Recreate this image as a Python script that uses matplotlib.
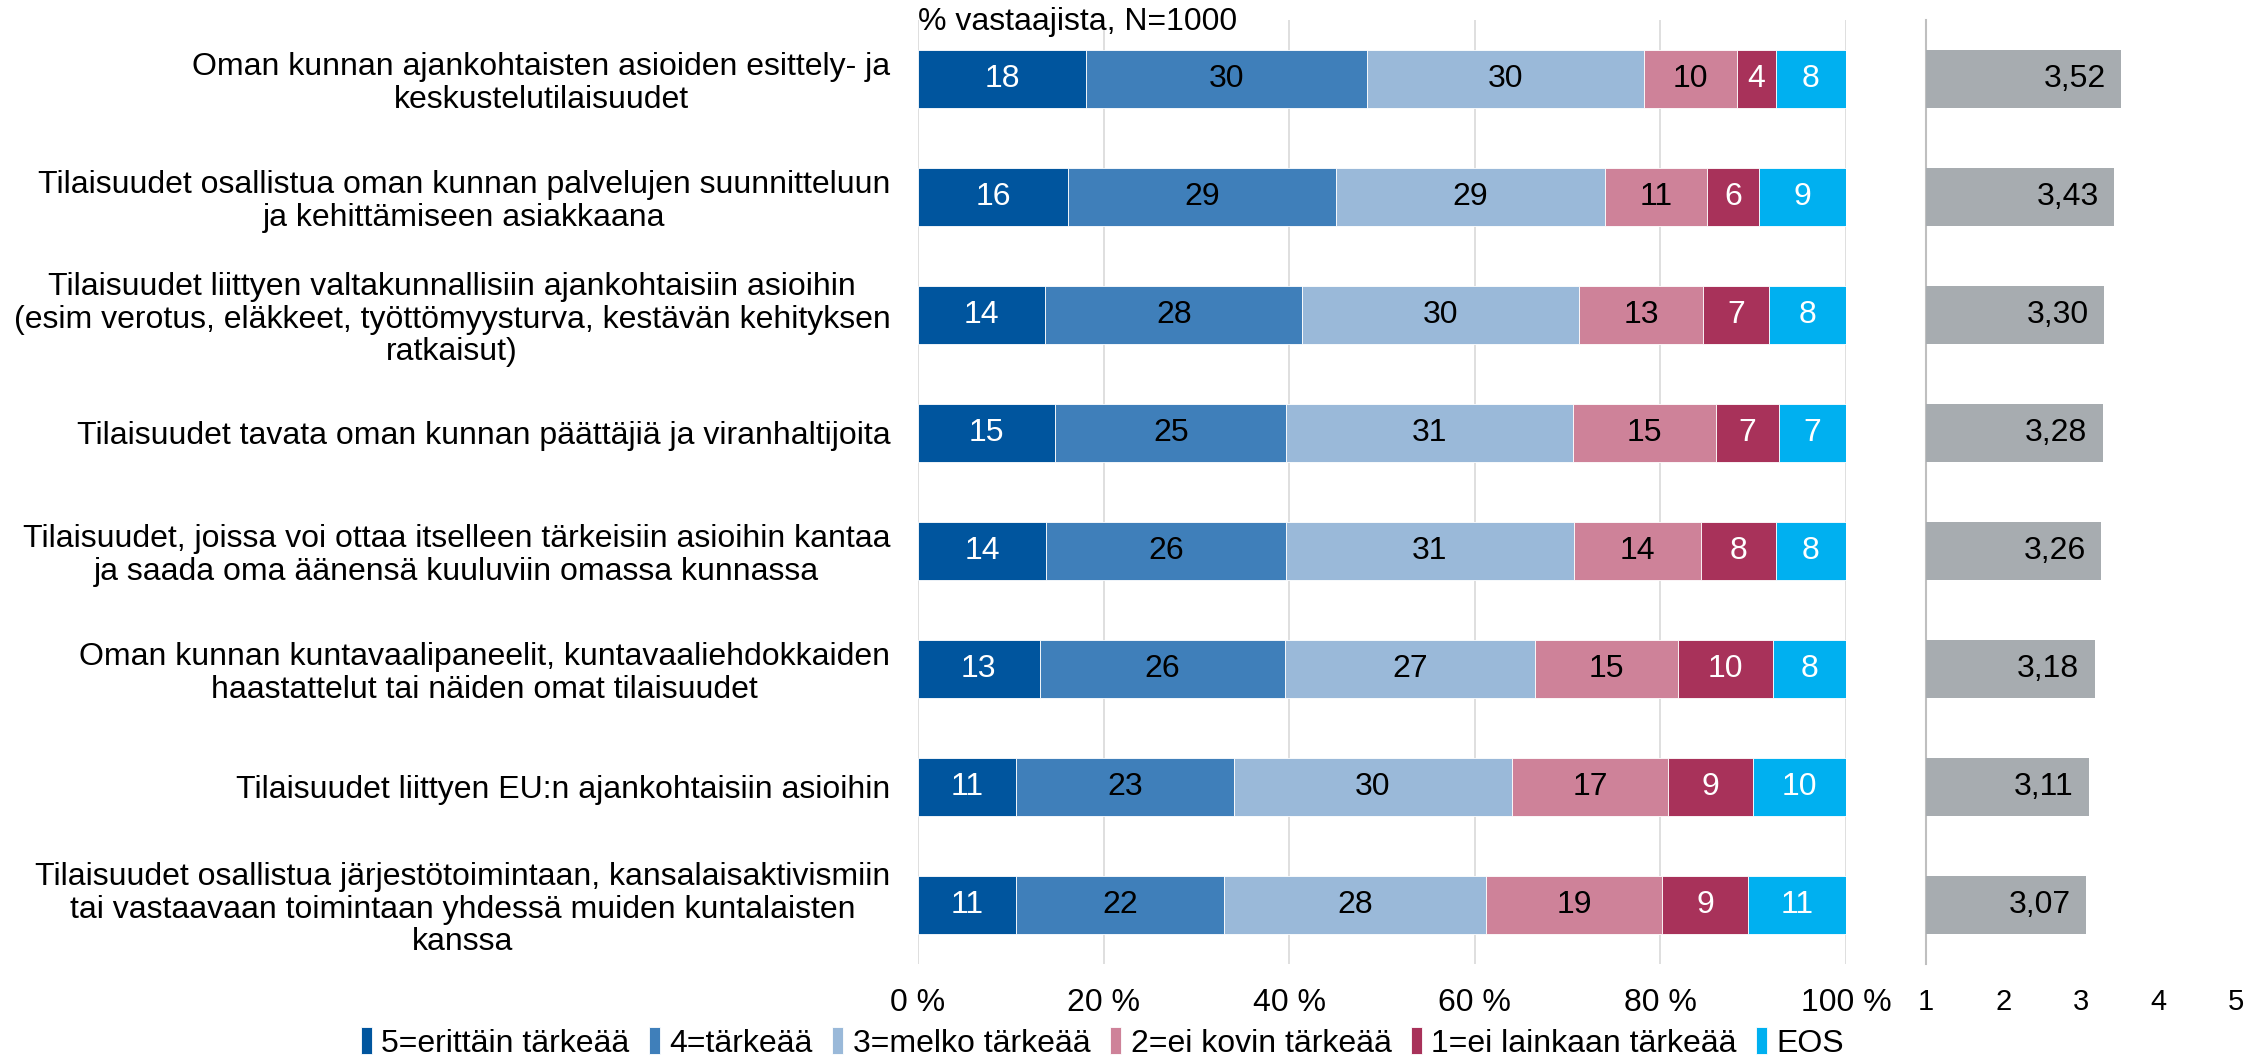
import matplotlib
matplotlib.use("Agg")
import matplotlib.pyplot as plt
import numpy as np

plt.rcParams['font.family'] = ['Liberation Sans', 'DejaVu Sans']

categories = [
    "Oman kunnan ajankohtaisten asioiden esittely- ja\nkeskustelutilaisuudet",
    "Tilaisuudet osallistua oman kunnan palvelujen suunnitteluun\nja kehittämiseen asiakkaana",
    "Tilaisuudet liittyen valtakunnallisiin ajankohtaisiin asioihin\n(esim verotus, eläkkeet, työttömyysturva, kestävän kehityksen\nratkaisut)",
    "Tilaisuudet tavata oman kunnan päättäjiä ja viranhaltijoita",
    "Tilaisuudet, joissa voi ottaa itselleen tärkeisiin asioihin kantaa\nja saada oma äänensä kuuluviin omassa kunnassa",
    "Oman kunnan kuntavaalipaneelit, kuntavaaliehdokkaiden\nhaastattelut tai näiden omat tilaisuudet",
    "Tilaisuudet liittyen EU:n ajankohtaisiin asioihin",
    "Tilaisuudet osallistua järjestötoimintaan, kansalaisaktivismiin\ntai vastaavaan toimintaan yhdessä muiden kuntalaisten\nkanssa",
]

series_names = ["5=erittäin tärkeää", "4=tärkeää", "3=melko tärkeää",
                "2=ei kovin tärkeää", "1=ei lainkaan tärkeää", "EOS"]

s5 = [18.1, 16.2, 13.7, 14.8, 13.8, 13.1, 10.6, 10.6]
s4 = [30.3, 28.8, 27.7, 24.9, 25.8, 26.4, 23.4, 22.4]
s3 = [29.8, 29.0, 29.8, 30.9, 31.1, 27.0, 30.0, 28.2]
s2 = [10.1, 11.0, 13.4, 15.4, 13.7, 15.4, 16.8, 19.0]
s1 = [4.1, 5.6, 7.1, 6.8, 8.0, 10.2, 9.2, 9.2]
eos = [7.6, 9.4, 8.3, 7.2, 7.6, 7.9, 10.0, 10.6]

means = [3.52, 3.43, 3.30, 3.28, 3.26, 3.18, 3.11, 3.07]

x_ticks = [0, 20, 40, 60, 80, 100]
x_ticklabels = ["0 %", "20 %", "40 %", "60 %", "80 %", "100 %"]
mean_ticks = [1, 2, 3, 4, 5]

colors = ["#00559E", "#3F7FBA", "#9AB9D9", "#CE8299", "#A8325A", "#00B0F0"]
text_colors = ["white", "black", "black", "black", "white", "white"]
gray = "#A7ACB0"

fig = plt.figure(figsize=(22.64, 10.60), dpi=100)
ax1 = fig.add_axes([0.4055, 0.0906, 0.4099, 0.8906])
ax2 = fig.add_axes([0.8507, 0.0906, 0.1369, 0.8906])

y = np.arange(len(categories))
data = [s5, s4, s3, s2, s1, eos]
left = np.zeros(len(categories))
fs = 23
for vals, col, tc, name in zip(data, colors, text_colors, series_names):
    vals = np.array(vals)
    ax1.barh(y, vals, left=left, height=0.49, color=col, label=name,
             edgecolor='white', linewidth=0.6, zorder=3)
    for yi, l, v in zip(y, left, vals):
        ax1.text(l + v / 2, yi, f"{int(round(v))}", ha='center', va='center',
                 color=tc, fontsize=fs, zorder=4)
    left += vals

ax1.set_xlim(0, 100)
ax1.set_ylim(len(categories) - 0.5, -0.5)
ax1.set_xticks(x_ticks)
ax1.set_xticklabels(x_ticklabels, fontsize=fs)
ax1.set_yticks(y)
ax1.set_yticklabels(categories, fontsize=fs, multialignment='center', linespacing=1.1)
ax1.tick_params(axis='both', length=0)
ax1.tick_params(axis='x', pad=17)
ax1.tick_params(axis='y', pad=20)
for s in ax1.spines.values():
    s.set_visible(False)
ax1.xaxis.grid(True, color='#D9D9D9', linewidth=1.2, zorder=0)
ax1.set_axisbelow(True)
fig.text(0.4055, 0.979, "% vastaajista, N=1000", fontsize=fs, ha='left', va='center')

# right panel
ax2.barh(y, np.array(means) - 1, left=1, height=0.49, color=gray, zorder=3)
for yi, m in zip(y, means):
    ax2.text(m - 0.2, yi, f"{m:.2f}".replace('.', ','), ha='right', va='center',
             fontsize=fs, color='black', zorder=4)
ax2.set_xlim(1, 5)
ax2.set_ylim(len(categories) - 0.5, -0.5)
ax2.set_xticks(mean_ticks)
ax2.set_xticklabels([str(t) for t in mean_ticks], fontsize=fs - 2)
ax2.set_yticks([])
ax2.tick_params(axis='x', length=0, pad=17)
for k in ['top', 'right', 'bottom']:
    ax2.spines[k].set_visible(False)
ax2.spines['left'].set_color('#BFBFBF')
ax2.spines['left'].set_linewidth(1.5)

fig.legend(*ax1.get_legend_handles_labels(), loc='center', ncol=6,
           bbox_to_anchor=(0.487, 0.016), frameon=False, fontsize=fs,
           handlelength=0.35, handleheight=0.9, handletextpad=0.3,
           columnspacing=0.6)

fig.savefig("out.png", dpi=100)
